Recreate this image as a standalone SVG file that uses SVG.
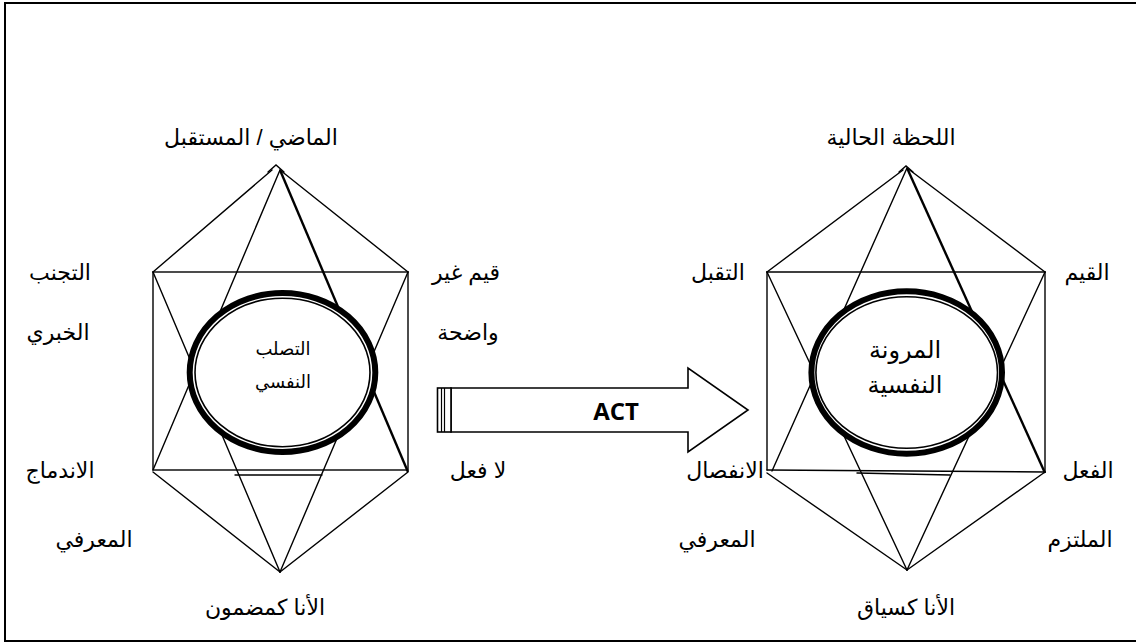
<svg xmlns="http://www.w3.org/2000/svg" width="1136" height="643" viewBox="0 0 1136 643">
<style>
.ln{stroke:#000;stroke-width:1.4;fill:none;stroke-linecap:round}
.bold{stroke:#000;stroke-width:2.4;fill:none}
.ringO{stroke:#000;stroke-width:6;fill:#fff}
.ringI{stroke:#000;stroke-width:1.6;fill:#fff}
.lbl{font-family:"Liberation Sans","DejaVu Sans",sans-serif;font-size:22px;fill:#000;text-anchor:middle}
.in1{font-family:"Liberation Sans","DejaVu Sans",sans-serif;font-size:18px;fill:#000;text-anchor:middle}
.in2{font-family:"Liberation Sans","DejaVu Sans",sans-serif;font-size:24px;fill:#000;text-anchor:middle}
.act{font-family:"Open Sans","Liberation Sans",sans-serif;font-size:24px;font-weight:bold;fill:#000;text-anchor:middle}
</style>
<rect x="0" y="0" width="1136" height="643" fill="#fff"/>
<rect x="5" y="3" width="1140" height="638" fill="none" stroke="#000" stroke-width="2"/>

<g id="connectors">
  <!-- left figure lines -->
  <line class="ln" x1="153" y1="272" x2="272" y2="170"/>
  <line class="ln" x1="280" y1="170" x2="408" y2="272"/>
  <path class="ln" d="M268 172 L276 165 L284 172"/>
  <rect class="ln" x="153" y="272" width="255" height="198"/>
  <line class="ln" x1="280" y1="170" x2="153" y2="470"/>
  <line class="bold" x1="280" y1="170" x2="408" y2="472"/>
  <line class="ln" x1="153" y1="272" x2="280" y2="572"/>
  <line class="ln" x1="408" y1="272" x2="280" y2="572"/>
  <line class="ln" x1="153" y1="472" x2="280" y2="572"/>
  <line class="ln" x1="408" y1="472" x2="280" y2="572"/>
  <line class="ln" x1="235" y1="475" x2="322" y2="475"/>
  <!-- right figure lines -->
  <line class="ln" x1="767" y1="272" x2="903" y2="170"/>
  <line class="ln" x1="907" y1="168" x2="1045" y2="272"/>
  <path class="ln" d="M899 172 L906 166 L913 172"/>
  <line class="ln" x1="767" y1="272" x2="1045" y2="272"/>
  <line class="ln" x1="767" y1="272" x2="767" y2="470"/>
  <line class="ln" x1="1045" y1="272" x2="1045" y2="472"/>
  <line class="ln" x1="767" y1="470" x2="1045" y2="472"/>
  <line class="ln" x1="857" y1="473" x2="950" y2="475"/>
  <line class="ln" x1="907" y1="168" x2="772" y2="471"/>
  <line class="bold" x1="907" y1="168" x2="1045" y2="473"/>
  <line class="ln" x1="767" y1="272" x2="907" y2="570"/>
  <line class="ln" x1="1045" y1="272" x2="907" y2="570"/>
  <line class="ln" x1="767" y1="473" x2="907" y2="570"/>
  <line class="ln" x1="1045" y1="472" x2="907" y2="570"/>
</g>

<g id="node-left-core">
  <ellipse class="ringO" cx="282.5" cy="372.5" rx="92.8" ry="79.5"/>
  <ellipse class="ringI" cx="282.5" cy="372.5" rx="87.5" ry="74.2"/>
  <text class="in1" x="283" y="355">التصلب</text>
  <text class="in1" x="283" y="388">النفسي</text>
</g>

<g id="node-right-core">
  <ellipse class="ringO" cx="906.7" cy="372.5" rx="95.3" ry="81.2"/>
  <ellipse class="ringI" cx="906.7" cy="372.5" rx="90.8" ry="75.8"/>
  <text class="in2" x="905" y="358">المرونة</text>
  <text class="in2" x="905" y="393">النفسية</text>
</g>

<g id="node-arrow">
  <polygon points="451,388 688,388 688,368 748,410 688,452 688,432 451,432" fill="#fff" stroke="#000" stroke-width="1.6" stroke-linejoin="miter"/>
  <rect x="437.5" y="388" width="13.5" height="44" fill="#fff" stroke="#000" stroke-width="1.6"/>
  <line x1="441.5" y1="388" x2="441.5" y2="432" stroke="#000" stroke-width="1.2"/>
  <line x1="444.5" y1="388" x2="444.5" y2="432" stroke="#000" stroke-width="1.2"/>
  <text class="act" x="616" y="420">ACT</text>
</g>

<g id="labels-left">
  <text class="lbl" x="251" y="145">الماضي / المستقبل</text>
  <text class="lbl" x="60" y="280">التجنب</text>
  <text class="lbl" x="58" y="340">الخبري</text>
  <text class="lbl" x="60" y="478">الاندماج</text>
  <text class="lbl" x="94" y="547">المعرفي</text>
  <text class="lbl" x="466" y="280">قيم غير</text>
  <text class="lbl" x="468" y="340">واضحة</text>
  <text class="lbl" x="478" y="478">لا فعل</text>
  <text class="lbl" x="265" y="615">الأنا كمضمون</text>
</g>

<g id="labels-right">
  <text class="lbl" x="891" y="145">اللحظة الحالية</text>
  <text class="lbl" x="718" y="280">التقبل</text>
  <text class="lbl" x="1087" y="280">القيم</text>
  <text class="lbl" x="725" y="478">الانفصال</text>
  <text class="lbl" x="717" y="547">المعرفي</text>
  <text class="lbl" x="1088" y="478">الفعل</text>
  <text class="lbl" x="1080" y="547">الملتزم</text>
  <text class="lbl" x="906" y="615">الأنا كسياق</text>
</g>
</svg>
